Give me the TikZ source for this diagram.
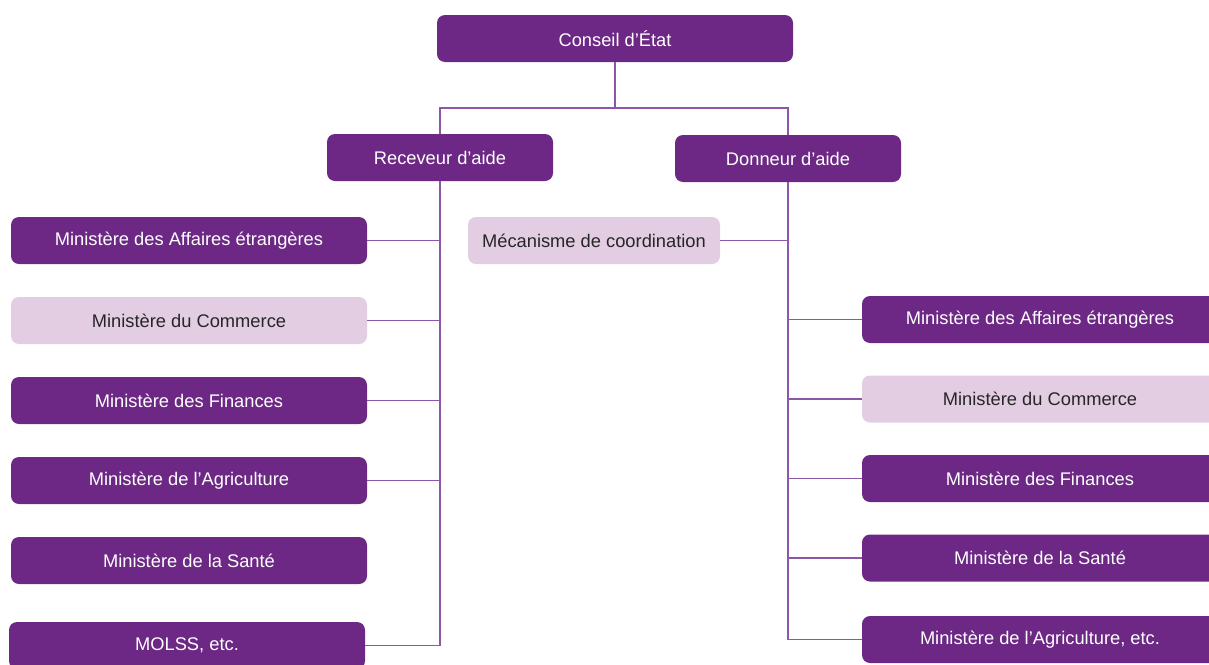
\documentclass[tikz,border=0pt]{standalone}
\usepackage{fontspec}
\setmainfont{Liberation Sans}
\definecolor{plum}{RGB}{108,40,132}
\definecolor{lilac}{RGB}{227,205,227}
\definecolor{wirecol}{RGB}{142,86,168}
\begin{document}
\begin{tikzpicture}[x=1pt,y=-1pt,font=\fontsize{18.3}{21}\selectfont,
    darkbox/.style={fill=plum,text=white,rounded corners=8pt,minimum width=356pt,minimum height=47pt,inner sep=0pt},
    lightbox/.style={darkbox,fill=lilac,text=black!85},
    wire/.style={draw=wirecol,line width=1.5pt}]
    \useasboundingbox (0,0) rectangle (1209,664);
    \clip (0,0) rectangle (1209,664);

    \node (conseil) at (615,38.5) [darkbox] {Conseil d’État};
    \node (recv) at (440,157.5) [darkbox,minimum width=226pt] {Receveur d’aide};
    \node (donn) at (788,158.5) [darkbox,minimum width=226pt] {Donneur d’aide};

    \node (maeL) at (189,240.5) [darkbox] {Ministère des Affaires étrangères};
    \node (comL) at (189,320.5) [lightbox] {Ministère du Commerce};
    \node (finL) at (189,400.5) [darkbox] {Ministère des Finances};
    \node (agrL) at (189,480.5) [darkbox] {Ministère de l’Agriculture};
    \node (sanL) at (189,560.5) [darkbox] {Ministère de la Santé};
    \node (molss) at (187,645.5) [darkbox] {MOLSS, etc.};

    \node (meca) at (594,240.5) [lightbox,minimum width=252pt] {Mécanisme de coordination};

    \node (maeR) at (1040,319.5) [darkbox] {Ministère des Affaires étrangères};
    \node (comR) at (1040,399) [lightbox] {Ministère du Commerce};
    \node (finR) at (1040,478.5) [darkbox] {Ministère des Finances};
    \node (sanR) at (1040,558) [darkbox] {Ministère de la Santé};
    \node (agrR) at (1040,639.5) [darkbox] {Ministère de l’Agriculture, etc.};

    \coordinate (fork) at (615,108);
    \draw[wire] (conseil.south) -- (fork);
    \draw[wire] (recv.north) |- (fork) -| (donn.north);

    \draw[wire] (recv.south) |- (molss.east);
    \foreach \n in {maeL,comL,finL,agrL}
        \draw[wire] (\n.east) -- (\n.east -| recv.south);

    \draw[wire] (donn.south) |- (agrR.west);
    \draw[wire] (meca.east) -- (meca.east -| donn.south);
    \foreach \n in {maeR,comR,finR,sanR}
        \draw[wire] (\n.west) -- (\n.west -| donn.south);
\end{tikzpicture}
\end{document}
